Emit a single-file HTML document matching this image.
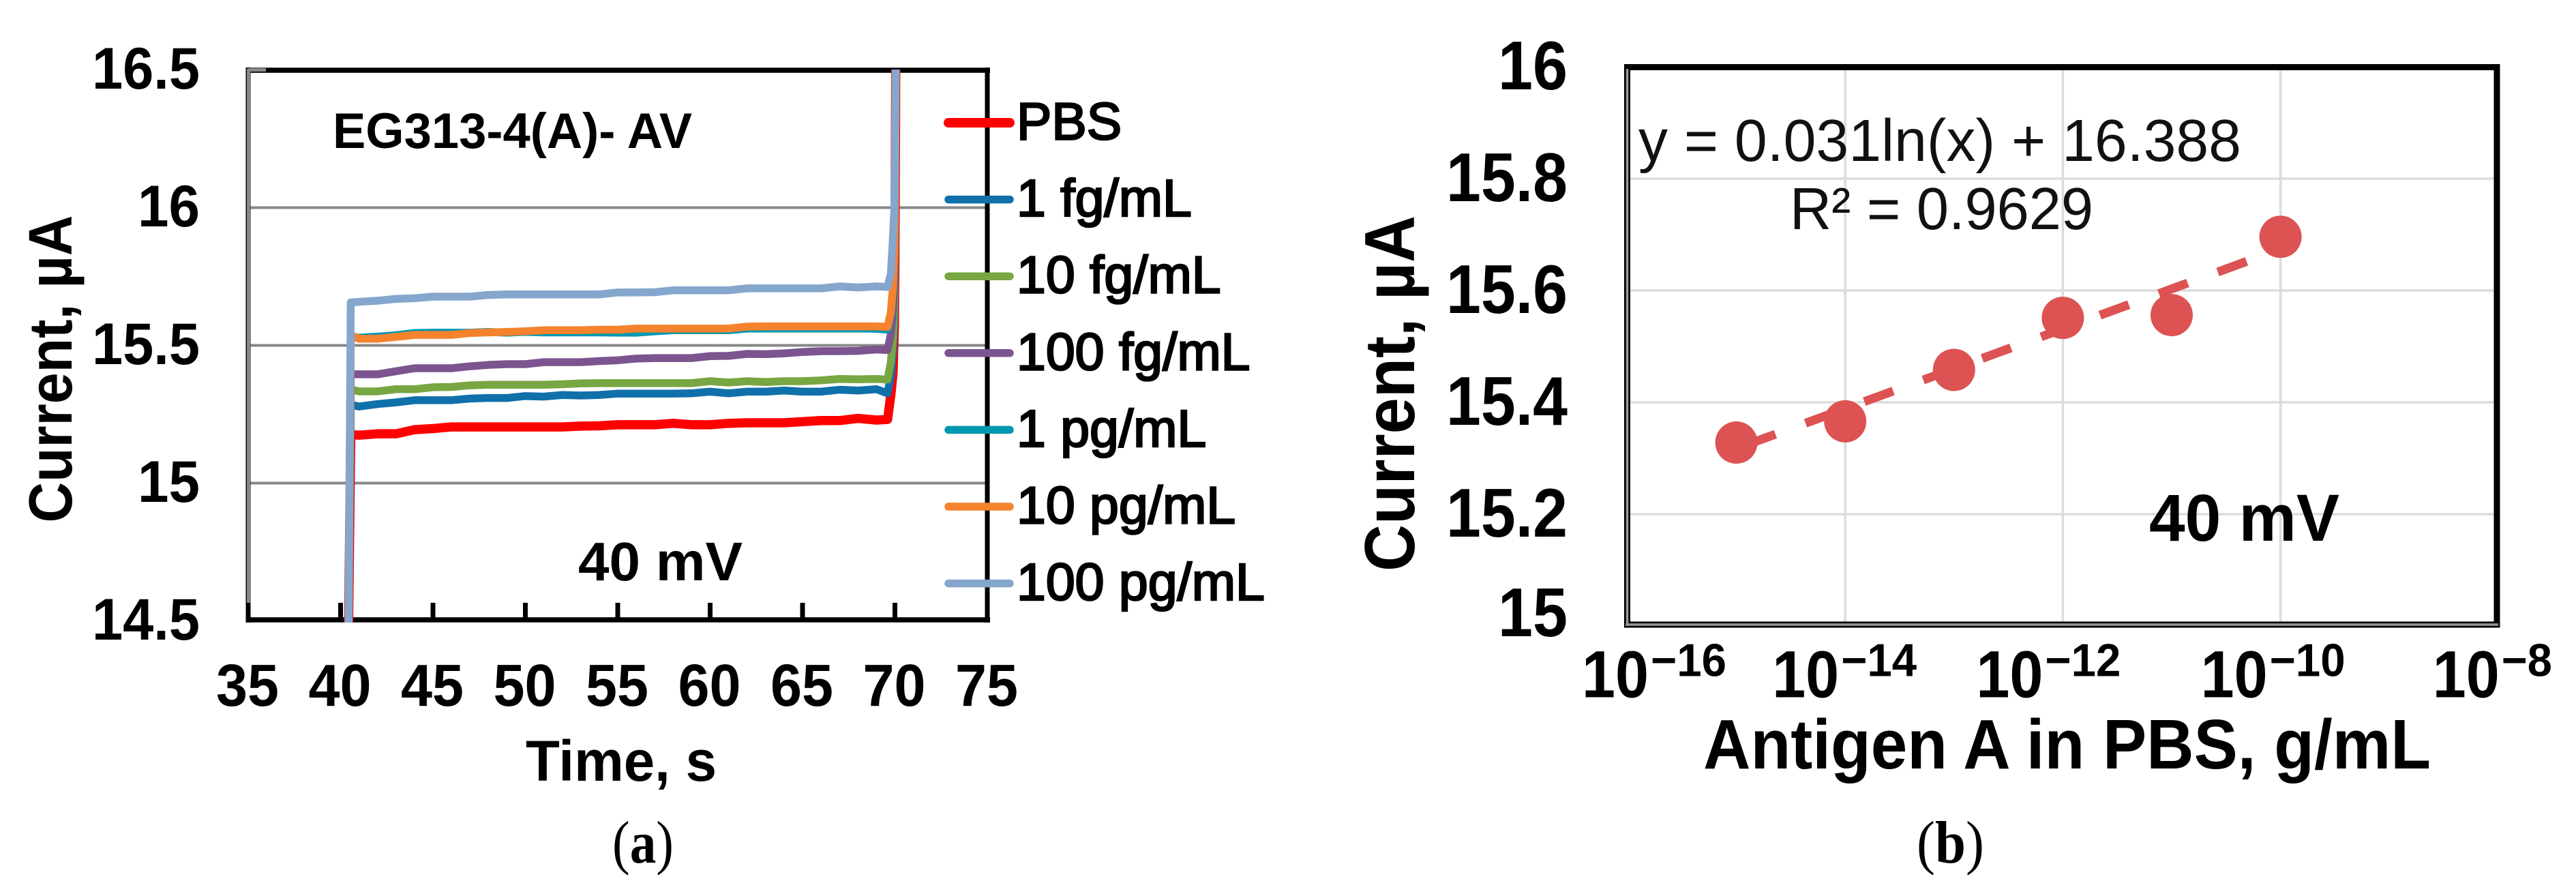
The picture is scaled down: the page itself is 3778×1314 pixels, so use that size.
<!DOCTYPE html>
<html lang="en">
<head>
<meta charset="utf-8">
<title>Current versus time and antigen concentration at 40 mV</title>
<style>
html,body{margin:0;padding:0;background:#fff;}
svg{display:block;position:absolute;left:0;top:0;}
text{font-family:"Liberation Sans",Arial,sans-serif;fill:#000;}
.b{font-weight:bold;}
.serif{font-family:"Liberation Serif",serif;}
</style>
</head>
<body>
<svg id="figure" width="3778" height="1314" viewBox="0 0 3778 1314" xmlns="http://www.w3.org/2000/svg">
  <defs>
    <clipPath id="plot-a-clip"><rect x="360" y="102" width="1092" height="811"/></clipPath>
  </defs>
  <rect x="0" y="0" width="3778" height="1314" fill="#fff"/>
  <g id="chart-a"></g>
  <g id="chart-b"></g>

  <text class="b" font-size="90" textLength="451" lengthAdjust="spacingAndGlyphs" text-anchor="middle" transform="translate(105,541) rotate(-90)">Current, µA</text>
  <text class="b" font-size="84" textLength="280" lengthAdjust="spacingAndGlyphs" x="771" y="1145">Time, s</text>
  <text class="b" font-size="73" textLength="527" lengthAdjust="spacingAndGlyphs" x="488" y="217">EG313-4(A)- AV</text>
  <text class="b" font-size="80" textLength="241" lengthAdjust="spacingAndGlyphs" x="848" y="851">40 mV</text>
  <text class="serif" font-size="88" textLength="90" lengthAdjust="spacingAndGlyphs" x="898" y="1265">(<tspan font-weight="bold">a</tspan>)</text>

  <text class="b" font-size="104" textLength="522" lengthAdjust="spacingAndGlyphs" text-anchor="middle" transform="translate(2074,577) rotate(-90)">Current, µA</text>
  <text class="b" font-size="103" textLength="1067" lengthAdjust="spacingAndGlyphs" x="2498" y="1127">Antigen A in PBS, g/mL</text>
  <text font-size="87" textLength="884" lengthAdjust="spacingAndGlyphs" x="2403" y="236" style="fill:#111">y = 0.031ln(x) + 16.388</text>
  <text font-size="87" textLength="445" lengthAdjust="spacingAndGlyphs" x="2625" y="336" style="fill:#111">R² = 0.9629</text>
  <text class="b" font-size="97" textLength="279" lengthAdjust="spacingAndGlyphs" x="3152" y="793">40 mV</text>
  <text class="serif" font-size="88" textLength="99" lengthAdjust="spacingAndGlyphs" x="2811" y="1265">(<tspan font-weight="bold">b</tspan>)</text>
</svg>
<script>
// ----- Chart (a) data: current vs. time -----
const timeSeconds = [40.42,40.55,41,42,43,44,45,46,47,48,49,50,51,52,53,54,55,56,57,58,59,60,61,62,63,64,65,66,67,68,69,69.6,69.78,69.9,69.97,70,70.05];
const seriesNames = ["PBS","1 fg/mL","10 fg/mL","100 fg/mL","1 pg/mL","10 pg/mL","100 pg/mL"];
const currentPBS = [14.4,15.176,15.174,15.179,15.179,15.194,15.198,15.204,15.204,15.204,15.204,15.204,15.204,15.204,15.207,15.208,15.212,15.212,15.212,15.217,15.212,15.212,15.217,15.219,15.219,15.219,15.223,15.227,15.227,15.235,15.229,15.231,15.32,15.4,15.57,15.8,16.6];
const current1fg = [14.4,15.285,15.278,15.287,15.293,15.301,15.301,15.301,15.307,15.309,15.309,15.316,15.314,15.32,15.318,15.32,15.325,15.325,15.325,15.325,15.326,15.332,15.326,15.332,15.332,15.336,15.332,15.332,15.339,15.336,15.341,15.326,15.39,15.48,15.62,15.84,16.6];
const current10fg = [14.4,15.34,15.333,15.333,15.341,15.341,15.348,15.349,15.355,15.357,15.357,15.357,15.357,15.359,15.362,15.363,15.363,15.363,15.363,15.363,15.363,15.37,15.365,15.37,15.367,15.37,15.37,15.373,15.378,15.377,15.378,15.376,15.44,15.53,15.68,15.88,16.6];
const current100fg = [14.4,15.395,15.395,15.395,15.406,15.417,15.417,15.417,15.424,15.429,15.432,15.432,15.439,15.439,15.439,15.443,15.446,15.452,15.454,15.454,15.454,15.461,15.462,15.469,15.468,15.471,15.476,15.479,15.479,15.48,15.485,15.483,15.54,15.63,15.76,15.95,16.6];
const current1pg = [14.4,15.53,15.528,15.532,15.537,15.545,15.546,15.546,15.546,15.549,15.546,15.549,15.547,15.547,15.547,15.547,15.546,15.546,15.551,15.555,15.555,15.555,15.555,15.561,15.561,15.561,15.561,15.561,15.561,15.561,15.56,15.557,15.61,15.71,15.84,16.0,16.6];
const current10pg = [14.4,15.537,15.524,15.524,15.531,15.538,15.538,15.538,15.545,15.547,15.549,15.551,15.555,15.555,15.555,15.557,15.557,15.561,15.561,15.561,15.561,15.561,15.561,15.568,15.569,15.569,15.569,15.569,15.569,15.569,15.569,15.567,15.62,15.72,15.85,16.0,16.6];
const current100pg = [14.4,15.656,15.658,15.662,15.669,15.671,15.677,15.677,15.677,15.683,15.685,15.685,15.685,15.685,15.685,15.685,15.692,15.692,15.693,15.7,15.7,15.7,15.7,15.707,15.707,15.707,15.707,15.707,15.714,15.71,15.714,15.712,15.76,15.9,16.0,16.15,16.6];
const timeTicks = [35,40,45,50,55,60,65,70,75];
const currentTicksA = [16.5,16,15.5,15,14.5];
const currentTickLabelsA = ["16.5","16","15.5","15","14.5"];

// ----- Chart (b) data: current vs. concentration -----
const concentrationExponents = [-15,-14,-13,-12,-11,-10];
const currentMeans = [15.328,15.366,15.458,15.551,15.556,15.696];
const trendSlope = 0.031;
const trendIntercept = 16.388;
const trendRange = [-15,-10];
const currentTicksB = [16,15.8,15.6,15.4,15.2,15];
const currentTickLabelsB = ["16","15.8","15.6","15.4","15.2","15"];
const exponentTicks = [-16,-14,-12,-10,-8];
const exponentTickLabels = ["\u221216","\u221214","\u221212","\u221210","\u22128"];

const NS = "http://www.w3.org/2000/svg";
function make(parent, tag, attrs, txt) {
  const el = document.createElementNS(NS, tag);
  for (const k in attrs) el.setAttribute(k, attrs[k]);
  if (txt !== undefined) el.textContent = txt;
  parent.appendChild(el);
  return el;
}

// Axis functions
function xA(t) { return 364 + (t - 35) * 27.1; }
function yA(v) { return 102.5 + (16.5 - v) * 404; }
function xB(p) { return 2387 + (p + 16) * 159.6; }
function yB(v) { return 98 + (16 - v) * 820; }

function drawChartA() {
  const g = document.getElementById("chart-a");
  const seriesValues = [currentPBS,current1fg,current10fg,current100fg,current1pg,current10pg,current100pg];
  const colors = ["#ff0000","#1070aa","#78a642","#7b5490","#0098b0","#f5822d","#85a6cd"];
  const widths = [13.5,11.5,11.5,11.5,11.5,11.5,11.5];

  // gridlines
  currentTicksA.slice(1,4).forEach(function (v) {
    const line = make(g, "line", {x1:367,x2:1445,y1:yA(v),y2:yA(v),stroke:"#888888","stroke-width":4});
    
    
  });

  // frame
  const top = make(g, "line", {x1:361,x2:1452,y1:103,y2:103,stroke:"#000","stroke-width":7.5});
  
  
  const right = make(g, "line", {x1:1448,x2:1448,y1:99,y2:913,stroke:"#000","stroke-width":7});
  
  
  const bottom = make(g, "line", {x1:361,x2:1452,y1:909,y2:909,stroke:"#000","stroke-width":7.5});
  
  
  const leftDark = make(g, "line", {x1:364,x2:364,y1:99,y2:913,stroke:"#000","stroke-width":7});
  
  
  const leftGrey = make(g, "line", {x1:364.5,x2:364.5,y1:101,y2:884,stroke:"#888888","stroke-width":5});
  
  
  const topGrey = make(g, "line", {x1:363,x2:390,y1:102.5,y2:102.5,stroke:"#888888","stroke-width":5});
  
  

  // x ticks and labels
  timeTicks.forEach(function (t) {
    const tick = make(g, "line", {x1:xA(t),x2:xA(t),y1:884,y2:906,stroke:"#000","stroke-width":7});
    
    
    const label = make(g, "text", {x:xA(t)-1,y:1035,"text-anchor":"middle","font-size":87,"font-weight":"bold",textLength:92,lengthAdjust:"spacingAndGlyphs"}, String(t));
    
    
  });

  // y tick labels
  currentTicksA.forEach(function (v, i) {
    const text = currentTickLabelsA[i];
    const label = make(g, "text", {x:293,y:yA(v)+27.5,"text-anchor":"end","font-size":86,"font-weight":"bold",textLength:text.length > 2 ? 158 : 91,lengthAdjust:"spacingAndGlyphs"}, text);
    
    
  });

  // series
  const clip = make(g, "g", {"clip-path":"url(#plot-a-clip)"});
  
  
  seriesValues.forEach(function (vals, i) {
    const d = vals.map(function (v, j) {
      return (j ? "L" : "M") + xA(timeSeconds[j]).toFixed(2) + " " + yA(v).toFixed(2);
    }).join(" ");
    const path = make(clip, "path", {d:d,fill:"none",stroke:colors[i],"stroke-width":widths[i],"stroke-linejoin":"round","stroke-linecap":"butt"});
    
    
  });

  // legend
  seriesNames.forEach(function (name, i) {
    const ly = 180 + i * 112.6;
    const key = make(g, "line", {x1:1391,x2:1481,y1:ly,y2:ly,stroke:colors[i],"stroke-width":i === 0 ? 14 : 11.5,"stroke-linecap":"round"});
    
    
    const label = make(g, "text", {x:1491,y:ly+24.5,"font-size":77,stroke:"#000","stroke-width":2.6}, name);
    
    
  });
}

function drawChartB() {
  const g = document.getElementById("chart-b");
  const markerColor = "#dd5252";

  // gridlines
  currentTicksB.slice(1,5).forEach(function (v) {
    const line = make(g, "line", {x1:2390,x2:3658,y1:yB(v),y2:yB(v),stroke:"#dcdcdc","stroke-width":3.5});
    
    
  });
  exponentTicks.slice(1,4).forEach(function (p) {
    const line = make(g, "line", {x1:xB(p),x2:xB(p),y1:102,y2:912,stroke:"#dcdcdc","stroke-width":3.5});
    
    
  });

  // frame
  const frame = make(g, "rect", {x:2386.5,y:98.5,width:1275.5,height:817.5,fill:"none",stroke:"#000","stroke-width":9});
  
  
  const yAxisInner = make(g, "line", {x1:2386.5,x2:2386.5,y1:101,y2:918,stroke:"#999","stroke-width":3.5});
  
  
  const xAxisInner = make(g, "line", {x1:2384,x2:3664,y1:916,y2:916,stroke:"#999","stroke-width":3.5});
  
  

  // y tick labels
  currentTicksB.forEach(function (v, i) {
    const text = currentTickLabelsB[i];
    const label = make(g, "text", {x:2299,y:Math.min(yB(v)+33,933),"text-anchor":"end","font-size":101,"font-weight":"bold",textLength:text.length > 2 ? 178 : 102,lengthAdjust:"spacingAndGlyphs"}, text);
    
    
  });

  // x tick labels (hand-placed in the source figure, so each has a nudge)
  const labelNudge = [-67,-107,-127,-117,-96];
  exponentTicks.forEach(function (p, i) {
    const x0 = xB(p) + labelNudge[i];
    const base = make(g, "text", {x:x0,y:1022.5,"font-size":97,"font-weight":"bold",textLength:98,lengthAdjust:"spacingAndGlyphs"}, "10");
    
    
    const supText = exponentTickLabels[i];
    const sup = make(g, "text", {x:x0+101,y:991.5,"font-size":68,"font-weight":"bold",textLength:supText.length > 2 ? 111 : 74,lengthAdjust:"spacingAndGlyphs"}, supText);
    
    
  });

  // trendline
  const LN10 = Math.LN10;
  const tv0 = trendSlope * trendRange[0] * LN10 + trendIntercept;
  const tv1 = trendSlope * trendRange[1] * LN10 + trendIntercept;
  const trend = make(g, "line", {x1:xB(trendRange[0]),y1:yB(tv0),x2:xB(trendRange[1]),y2:yB(tv1),stroke:markerColor,"stroke-width":13,"stroke-dasharray":"45 47","stroke-dashoffset":-16});
  
  

  // markers
  concentrationExponents.forEach(function (p, i) {
    const dot = make(g, "circle", {cx:xB(p),cy:yB(currentMeans[i]),r:31,fill:markerColor});
    
    
  });
}

drawChartA();
drawChartB();
</script>
</body>
</html>
